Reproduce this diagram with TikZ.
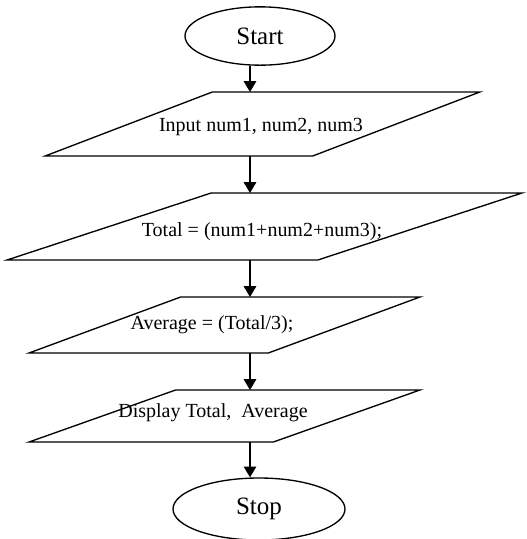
\documentclass[tikz,border=0pt]{standalone}
\usepackage{fontspec}
\setmainfont{Liberation Serif}
\usetikzlibrary{shapes.geometric,arrows.meta}
\begin{document}
\begin{tikzpicture}[x=0.6pt,y=-0.6pt]
\tikzset{ovale/.style={draw, ellipse, line width=0.8pt, inner sep=2pt, font=\fontsize{15}{18}\selectfont},
  para/.style={draw, trapezium, trapezium stretches=true, line width=0.8pt, inner sep=2pt, outer sep=0pt},
  texte/.style={font=\fontsize{12}{14}\selectfont},
  fleche/.style={line width=0.8pt, -{Triangle[width=7.5pt,length=6.5pt]}}}
\useasboundingbox (0,0) rectangle (527,539);
\coordinate (axe) at (250,0);
\node[ovale, minimum width=90pt, minimum height=35pt] (start) at (260,36) {Start};
\node[para, trapezium left angle=31, trapezium right angle=149, minimum width=261pt, minimum height=38.4pt,
  label={[texte, name=T1, xshift=-0.9pt, yshift=-1.8pt]center:Input num1, num2, num3}] (P1) at (262.5,124) {};
\node[para, trapezium left angle=27.6, trapezium right angle=152.4, minimum width=309pt, minimum height=40.2pt,
  label={[texte, name=T2, xshift=-1.5pt, yshift=-3.3pt]center:Total = (num1+num2+num3);}] (P2) at (264.5,226.5) {};
\node[para, trapezium left angle=30, trapezium right angle=150, minimum width=234.6pt, minimum height=33.6pt,
  label={[texte, name=T3, xshift=-7.5pt]center:Average = (Total/3);}] (P3) at (224.5,325) {};
\node[para, trapezium left angle=33.7, trapezium right angle=146.3, minimum width=234.6pt, minimum height=31.2pt,
  label={[texte, name=T4, xshift=-6.9pt, yshift=1.8pt]center:Display Total,\ \ Average}] (P4) at (224.5,416) {};
\node[ovale, minimum width=103.2pt, minimum height=37.2pt] (stop) at (259,509) {Stop};
% liaisons
\draw[fleche] (start.south -| axe) -- (P1.north -| axe);
\draw[fleche] (P1.south -| axe) -- (P2.north -| axe);
\draw[fleche] (P2.south -| axe) -- (P3.north -| axe);
\draw[fleche] (P3.south -| axe) -- (P4.north -| axe);
\draw[fleche] (P4.south -| axe) -- (stop.north -| axe);
\end{tikzpicture}
\end{document}
